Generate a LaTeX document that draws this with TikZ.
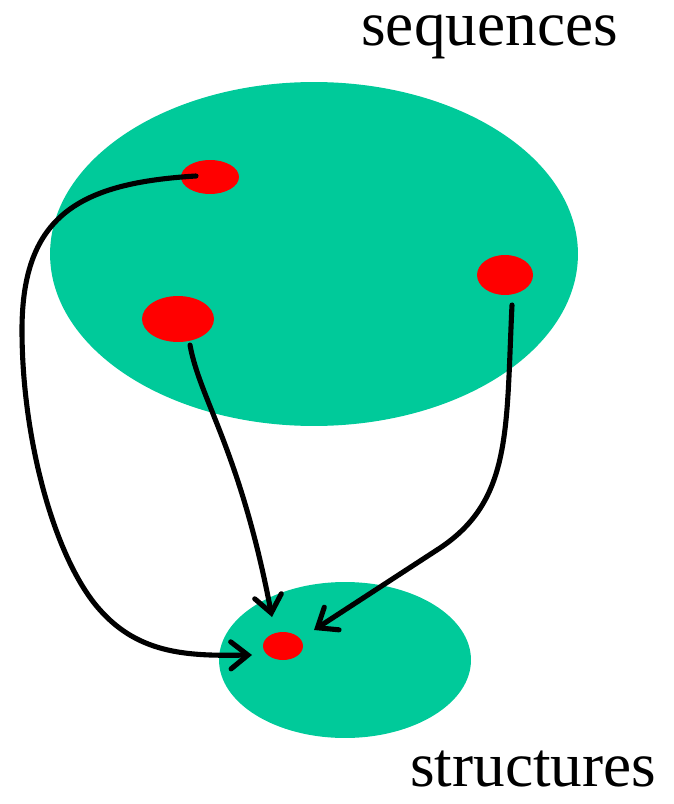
\documentclass[tikz,border=0pt]{standalone}
\usepackage{fontspec}
\setmainfont{Liberation Serif}
\usetikzlibrary{shapes.geometric,arrows.meta}
\definecolor{seagreen}{RGB}{0,202,154}
\definecolor{dotred}{RGB}{255,0,0}
\begin{document}
\begin{tikzpicture}[x=0.02cm,y=-0.02cm,
  blob/.style={ellipse,fill=seagreen,draw=none,inner sep=0pt},
  dot/.style={ellipse,fill=dotred,draw=none,inner sep=0pt},
  link/.style={line width=2.9pt,line cap=round,-{Straight Barb[length=3.4mm,width=5.4mm,line cap=round]}},
  lbl/.style={font=\fontsize{36}{40}\selectfont,inner sep=0pt,anchor=base west}]
\useasboundingbox (0,0) rectangle (673,804);
\node[blob,minimum width=10.56cm,minimum height=6.88cm] (big) at (314,254) {};
\node[blob,minimum width=5.04cm,minimum height=3.12cm] (small) at (345,660) {};
\node[dot,minimum width=1.16cm,minimum height=0.68cm] (d1) at (210,177) {};
\node[dot,minimum width=1.44cm,minimum height=0.92cm] (d2) at (178,319) {};
\node[dot,minimum width=1.12cm,minimum height=0.80cm] (d3) at (505,275) {};
\node[dot,minimum width=0.80cm,minimum height=0.56cm] (t) at (283,646) {};
\node[lbl] (seq) at (361,46) {sequences};
\node[lbl] (str) at (410,786) {structures};
\coordinate (s1) at (196,176);
\coordinate (e1) at (252,655);
\coordinate (s2) at (190,345);
\coordinate (e2) at (272,617);
\coordinate (s3) at (512,305);
\coordinate (e3) at (314,630);
\draw[link] (s1) .. controls (80,183) and (22,215) .. (22,330)
  .. controls (22,440) and (55,560) .. (100,610)
  .. controls (140,655) and (190,656) .. (e1);
\draw[link] (s2) .. controls (200,400) and (240,450) .. (e2);
\draw[link] (s3) .. controls (506,430) and (512,500) .. (440,548) -- (e3);
\end{tikzpicture}
\end{document}
